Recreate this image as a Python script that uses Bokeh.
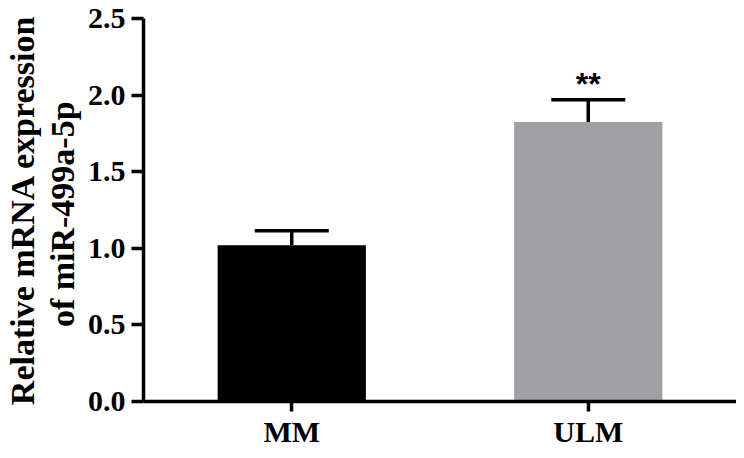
from bokeh.plotting import figure
from bokeh.models import (Range1d, FactorRange, ColumnDataSource, Whisker,
                          TeeHead, FixedTicker, NumeralTickFormatter, LinearAxis)
from bokeh.core.properties import value
from bokeh.embed import file_html
from bokeh.resources import INLINE

# ---- data ----
groups = ["MM", "ULM"]
means = [1.02, 1.825]
errors = [0.095, 0.145]
bar_colors = ["#000000", "#a09fa4"]
sig_labels = ["", "**"]
y_ticks = [0.0, 0.5, 1.0, 1.5, 2.0, 2.5]
y_label_line1 = "Relative mRNA expression"
y_label_line2 = "of  miR-499a-5p"

upper = [m + e for m, e in zip(means, errors)]
src = ColumnDataSource(dict(group=groups, mean=means, upper=upper,
                            color=bar_colors))
sig_src = ColumnDataSource(dict(group=groups, y=[u + 0.1 for u in upper],
                                text=sig_labels))

FONT = "Liberation Serif"

p = figure(x_range=FactorRange(*groups), y_range=Range1d(0, 2.5),
           width=736, height=450, output_backend="svg",
           toolbar_location=None,
           min_border_left=140, min_border_right=0,
           min_border_top=18, min_border_bottom=46)

p.vbar(x="group", top="mean", width=0.5, fill_color="color",
       line_color=None, source=src)

w = Whisker(base="group", upper="upper", lower="mean", source=src,
            line_width=3.5, line_color="black",
            upper_head=TeeHead(size=74, line_width=3.5, line_color="black"),
            lower_head=None)
p.add_layout(w)

p.text(x="group", y="y", text="text", source=sig_src,
       text_font=value("Liberation Sans"), text_font_size="32px",
       text_font_style="bold", text_align="center",
       text_baseline="alphabetic", text_color="black")

# styling
p.outline_line_color = None
p.xgrid.visible = False
p.ygrid.visible = False
p.background_fill_color = "white"
p.border_fill_color = "white"

for ax in (p.xaxis[0], p.yaxis[0]):
    ax.axis_line_width = 3.5
    ax.axis_line_color = "black"
    ax.major_tick_line_width = 3.5
    ax.major_tick_line_color = "black"
    ax.major_tick_in = 0
    ax.minor_tick_line_color = None
    ax.major_label_text_font = FONT
    ax.major_label_text_font_style = "bold"
    ax.major_label_text_font_size = "30px"
    ax.major_label_text_color = "black"

p.yaxis.ticker = FixedTicker(ticks=y_ticks)
p.yaxis.formatter = NumeralTickFormatter(format="0.0")
p.yaxis.major_tick_out = 12
p.yaxis.major_label_standoff = 6
p.yaxis.axis_label = y_label_line2
p.yaxis.axis_label_text_font = FONT
p.yaxis.axis_label_text_font_style = "bold"
p.yaxis.axis_label_text_font_size = "34px"
p.yaxis.axis_label_text_color = "black"
p.yaxis.axis_label_standoff = 4

# outer (label-only) axis for the first line of the y label
outer = LinearAxis(ticker=FixedTicker(ticks=[]), axis_line_color=None,
                   major_tick_line_color=None, minor_tick_line_color=None,
                   axis_label=y_label_line1, axis_label_text_font=FONT,
                   axis_label_text_font_style="bold",
                   axis_label_text_font_size="34px",
                   axis_label_text_color="black", axis_label_standoff=0)
p.add_layout(outer, "left")

p.xaxis.major_tick_out = 10
p.xaxis.major_label_standoff = 3

open("out.html", "w").write(file_html(p, INLINE))
